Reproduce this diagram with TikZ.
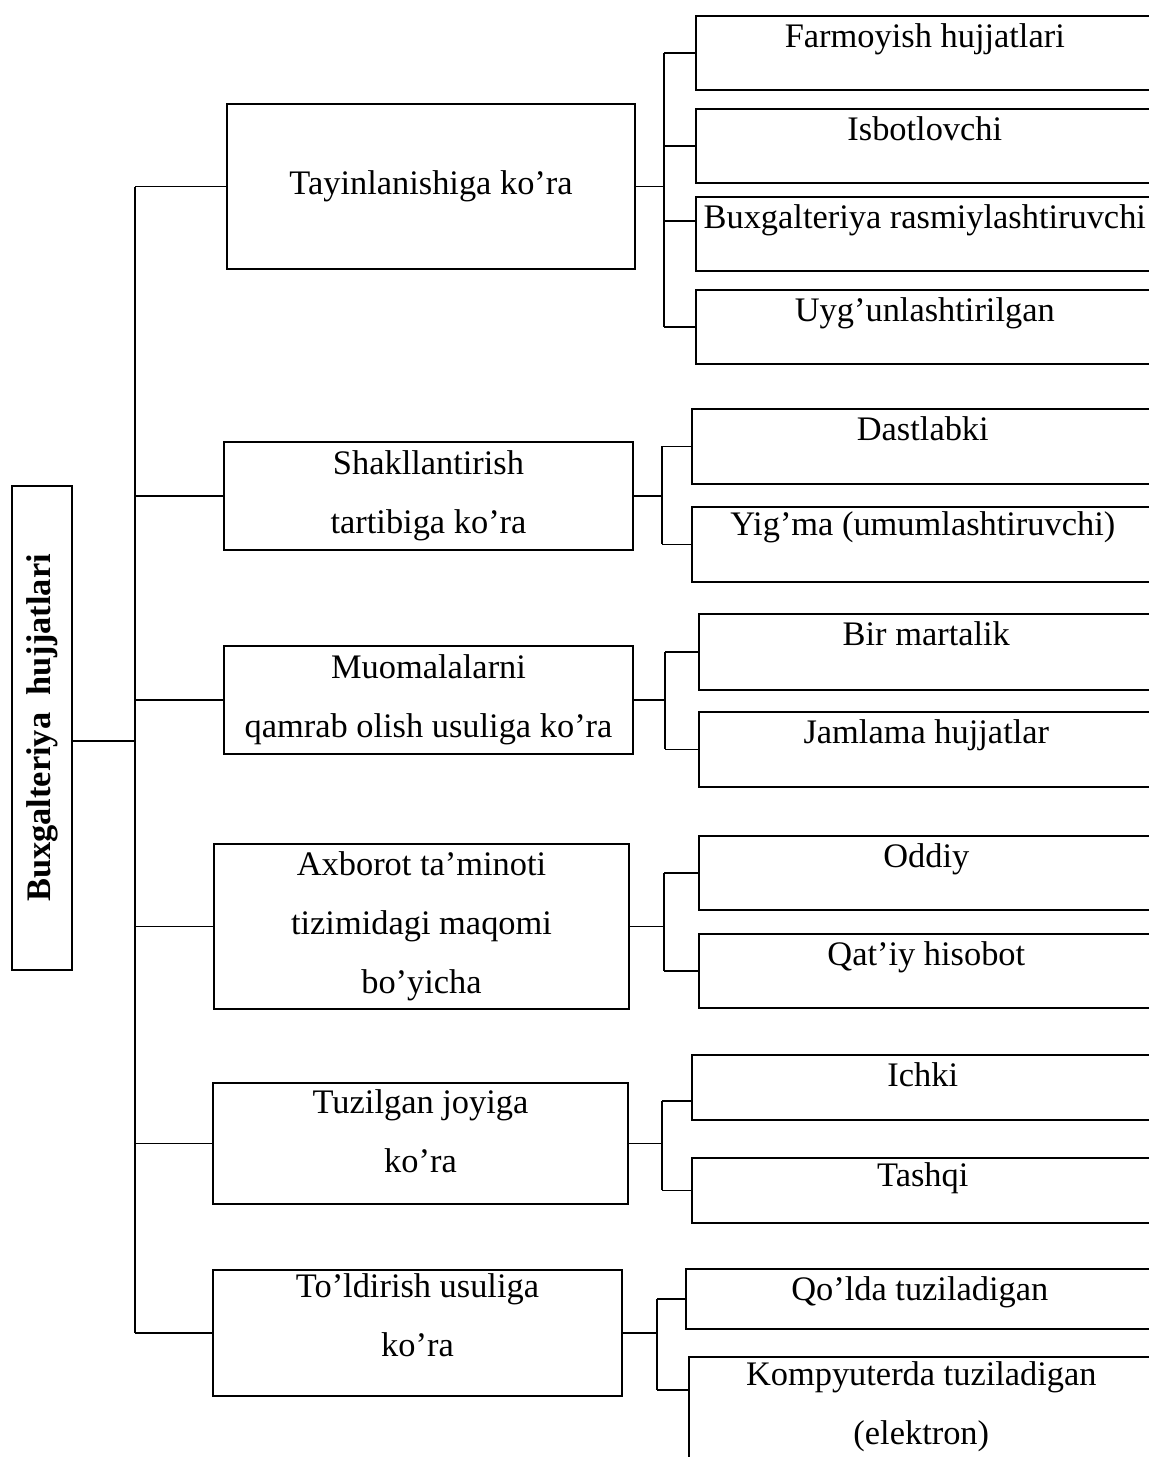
\documentclass[tikz,border=0pt]{standalone}
\usepackage{fontspec}
\setmainfont{Liberation Serif}
\usetikzlibrary{calc}

\begin{document}
\begin{tikzpicture}[x=0.5pt, y=-0.5pt,
    every node/.style={font=\fontsize{17.2}{29.5}\selectfont},
    midbox/.style={draw, line width=1pt, anchor=north west, align=center, inner sep=0pt},
    leaf/.style={draw, line width=0.8pt, anchor=north west, inner sep=0pt, text height=16pt},
    conn/.style={line width=0.75pt}]
    \useasboundingbox (0,0) rectangle (1149,1457);

    % root
    \node[draw, line width=1pt, rotate=90, minimum width=242pt, minimum height=30pt,
          font=\fontsize{17.2}{20}\selectfont\bfseries] (root) at (42,728) {Buxgalteriya\ \ hujjatlari};
    \coordinate (trunk) at (135,741);

    % middle column
    \node[midbox, minimum width=204pt, minimum height=82.5pt] (tay) at (226,103) {Tayinlanishiga ko’ra};
    \node[midbox, minimum width=204.5pt, minimum height=54pt] (shk) at (223,441) {Shakllantirish\\tartibiga ko’ra};
    \node[midbox, minimum width=204.5pt, minimum height=54pt] (muo) at (223,645) {Muomalalarni\\qamrab olish usuliga ko’ra};
    \node[midbox, minimum width=207.5pt, minimum height=82.5pt] (axb) at (213,843) {Axborot ta’minoti\\tizimidagi maqomi\\bo’yicha};
    \node[midbox, minimum width=207.5pt, minimum height=60.5pt] (tuz) at (212,1082) {Tuzilgan joyiga\\ko’ra\rule[-12pt]{0pt}{0pt}};
    \node[midbox, minimum width=204.5pt, minimum height=63pt] (tol) at (212,1269) {To’ldirish usuliga\\ko’ra\rule[-18pt]{0pt}{0pt}};

    % right column
    \node[leaf, minimum width=229pt, text depth=21pt] (farm) at (695,15) {Farmoyish hujjatlari};
    \node[leaf, minimum width=229pt, text depth=21pt] (isb) at (695,108) {Isbotlovchi};
    \node[leaf, minimum width=229pt, text depth=21pt] (bux) at (695,196) {Buxgalteriya rasmiylashtiruvchi};
    \node[leaf, minimum width=229pt, text depth=21pt] (uyg) at (695,289) {Uyg’unlashtirilgan};

    \node[leaf, minimum width=231pt, text depth=21.5pt] (dast) at (691,408) {Dastlabki};
    \node[leaf, minimum width=231pt, text height=14.5pt, text depth=23pt] (yig) at (691,506) {Yig’ma (umumlashtiruvchi)};

    \node[leaf, minimum width=227.5pt, text depth=22pt] (bir) at (698,613) {Bir martalik};
    \node[leaf, minimum width=227.5pt, text depth=21.5pt] (jam) at (698,711) {Jamlama hujjatlar};

    \node[leaf, minimum width=227.5pt, text depth=21pt] (odd) at (698,835) {Oddiy};
    \node[leaf, minimum width=227.5pt, text depth=21pt] (qat) at (698,933) {Qat’iy hisobot};

    \node[leaf, minimum width=231pt, text depth=16.5pt] (ich) at (691,1054) {Ichki};
    \node[leaf, minimum width=231pt, text height=14.5pt, text depth=18pt] (tash) at (691,1157) {Tashqi};

    \node[leaf, minimum width=234pt, text depth=14pt] (qol) at (685,1268) {Qo’lda tuziladigan};
    \node[leaf, minimum width=232.5pt, text height=14.5pt, text depth=60pt] (komp) at (688,1356)
        {\parbox[t]{200pt}{\centering Kompyuterda tuziladigan\\(elektron)}};

    % trunk
    \draw[line width=1pt] (trunk |- tay.west) -- (trunk |- tol.west);
    \draw[conn] (root.south |- trunk) -- (trunk);
    \foreach \m in {tay,shk,muo,axb,tuz,tol}
        \draw[conn] (trunk |- \m.west) -- (\m.west);

    % brackets
    \coordinate (br1) at (664,0);
    \coordinate (br2) at (662,0);
    \coordinate (br3) at (665,0);
    \coordinate (br4) at (664,0);
    \coordinate (br5) at (662,0);
    \coordinate (br6) at (657,0);
    \coordinate (bux-in) at ($(bux.west)+(0,-13)$);
    \coordinate (ich-in) at ($(ich.west)+(0,13.5)$);
    \coordinate (komp-in) at ($(komp.north west)+(0,34)$);

    \draw[conn] (tay.east) -- (br1 |- tay.east);
    \draw[conn] (br1 |- farm.west) -- (br1 |- uyg.west);
    \foreach \l in {farm,isb,uyg}
        \draw[conn] (br1 |- \l.west) -- (\l.west);
    \draw[conn] (br1 |- bux-in) -- (bux-in);

    \draw[conn] (shk.east) -- (br2 |- shk.east);
    \draw[conn] (br2 |- dast.west) -- (dast.west);
    \draw[conn] (br2 |- yig.west) -- (yig.west);
    \draw[conn] (br2 |- dast.west) -- (br2 |- yig.west);

    \draw[conn] (muo.east) -- (br3 |- muo.east);
    \draw[conn] (br3 |- bir.west) -- (bir.west);
    \draw[conn] (br3 |- jam.west) -- (jam.west);
    \draw[conn] (br3 |- bir.west) -- (br3 |- jam.west);

    \draw[conn] (axb.east) -- (br4 |- axb.east);
    \draw[conn] (br4 |- odd.west) -- (odd.west);
    \draw[conn] (br4 |- qat.west) -- (qat.west);
    \draw[conn] (br4 |- odd.west) -- (br4 |- qat.west);

    \draw[conn] (tuz.east) -- (br5 |- tuz.east);
    \draw[conn] (br5 |- ich-in) -- (ich-in);
    \draw[conn] (br5 |- tash.west) -- (tash.west);
    \draw[conn] (br5 |- ich-in) -- (br5 |- tash.west);

    \draw[conn] (tol.east) -- (br6 |- tol.east);
    \draw[conn] (br6 |- qol.west) -- (qol.west);
    \draw[conn] (br6 |- komp-in) -- (komp-in);
    \draw[conn] (br6 |- qol.west) -- (br6 |- komp-in);
\end{tikzpicture}
\end{document}
